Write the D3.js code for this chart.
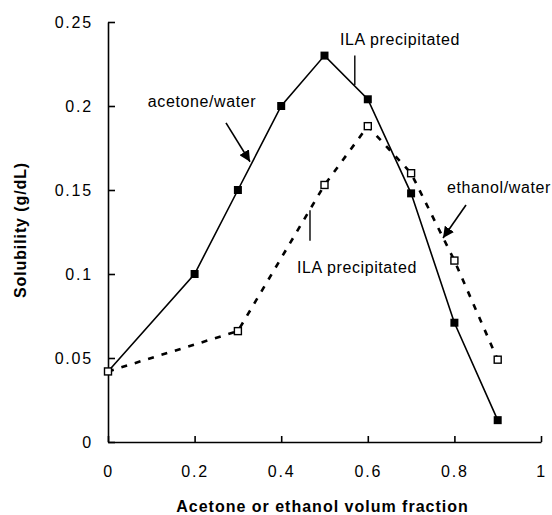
<!DOCTYPE html>
<html>
<head>
<meta charset="utf-8">
<script src="https://cdn.jsdelivr.net/npm/d3@7"></script>
<style>
  body { margin: 0; background: #fff; }
  text { font-family: "Liberation Sans", Arial, sans-serif; fill: #000; }
</style>
</head>
<body>
<div id="chart"></div>
<script>
// fractions of acetone / ethanol in the solvent
var fractions = [0, 0.2, 0.3, 0.4, 0.5, 0.6, 0.7, 0.8, 0.9];
var acetoneX = [0, 0.2, 0.3, 0.4, 0.5, 0.6, 0.7, 0.8, 0.9];
var acetoneY = [0.042, 0.1, 0.15, 0.2, 0.23, 0.204, 0.148, 0.071, 0.013];
var ethanolX = [0, 0.3, 0.5, 0.6, 0.7, 0.8, 0.9];
var ethanolY = [0.042, 0.066, 0.153, 0.188, 0.16, 0.108, 0.049];

var xTicks = [0, 0.2, 0.4, 0.6, 0.8, 1];
var xTickLabels = ["0", "0.2", "0.4", "0.6", "0.8", "1"];
var yTicks = [0, 0.05, 0.1, 0.15, 0.2, 0.25];
var yTickLabels = ["0", "0.05", "0.1", "0.15", "0.2", "0.25"];

var xTitle = "Acetone or ethanol volum fraction";
var yTitle = "Solubility (g/dL)";

// labels, placed in data units
var notes = [
    { text: "acetone/water", x: 0.092, y: 0.1994 },
    { text: "ILA precipitated", x: 0.536, y: 0.2363 },
    { text: "ILA precipitated", x: 0.4365, y: 0.1006 },
    { text: "ethanol/water", x: 0.783, y: 0.1482 }
];
var arrows = [
    { x1: 0.2725, y1: 0.190, x2: 0.328, y2: 0.1668 },
    { x1: 0.8268, y1: 0.1411, x2: 0.7737, y2: 0.1214 }
];
var pointers = [
    { x: 0.570, y1: 0.230, y2: 0.2125 },
    { x: 0.4665, y1: 0.138, y2: 0.1198 }
];

var width = 552, height = 515;
var margin = { top: 22, right: 11, bottom: 73, left: 108 };

var svg = d3.select("#chart")
    .append("svg")
    .attr("width", width)
    .attr("height", height);

var x = d3.scaleLinear()
    .domain([0, 1])
    .range([margin.left, width - margin.right]);
var y = d3.scaleLinear()
    .domain([0, 0.25])
    .range([height - margin.bottom, margin.top]);

// arrow head
svg.append("defs").append("marker")
    .attr("id", "head")
    .attr("viewBox", "0 0 10 10")
    .attr("refX", 10).attr("refY", 5)
    .attr("markerWidth", 7).attr("markerHeight", 7)
    .attr("markerUnits", "strokeWidth")
    .attr("orient", "auto")
    .append("path")
    .attr("d", "M0,0 L10,5 L0,10 z")
    .attr("fill", "#000");

// axes
var xAxis = svg.append("g")
    .attr("transform", "translate(0," + y(0) + ")")
    .call(d3.axisBottom(x)
        .tickValues(xTicks)
        .tickFormat(function (d, i) { return xTickLabels[i]; })
        .tickSize(-6)
        .tickSizeOuter(0)
        .tickPadding(24));

var yAxis = svg.append("g")
    .attr("transform", "translate(" + x(0) + ",0)")
    .call(d3.axisLeft(y)
        .tickValues(yTicks)
        .tickFormat(function (d, i) { return yTickLabels[i]; })
        .tickSize(-7)
        .tickSizeOuter(0)
        .tickPadding(15));

[xAxis, yAxis].forEach(function (a) {
    a.selectAll("path, line").attr("stroke", "#000").attr("stroke-width", 1.6);
    a.selectAll("text")
        .style("font-size", "16px")
        .style("letter-spacing", "1.8px")
        .style("font-family", "'Liberation Sans', Arial, sans-serif");
});

// titles
svg.append("text")
    .attr("x", x(0.5) - 2)
    .attr("y", 512)
    .attr("text-anchor", "middle")
    .style("font-size", "16px")
    .style("font-weight", "bold")
    .style("letter-spacing", "1px")
    .text(xTitle);

svg.append("text")
    .attr("transform", "translate(26," + 230 + ") rotate(-90)")
    .attr("text-anchor", "middle")
    .style("font-size", "16px")
    .style("font-weight", "bold")
    .style("letter-spacing", "0.9px")
    .text(yTitle);

// ethanol/water - dashed
var ethanol = ethanolX.map(function (d, i) { return [d, ethanolY[i]]; });
var acetone = acetoneX.map(function (d, i) { return [d, acetoneY[i]]; });

var line = d3.line()
    .x(function (d) { return x(d[0]); })
    .y(function (d) { return y(d[1]); });

svg.append("path")
    .datum(ethanol)
    .attr("d", line)
    .attr("fill", "none")
    .attr("stroke", "#000")
    .attr("stroke-width", 2.6)
    .attr("stroke-dasharray", "6,8");

svg.append("path")
    .datum(acetone)
    .attr("d", line)
    .attr("fill", "none")
    .attr("stroke", "#000")
    .attr("stroke-width", 1.6);

// markers
svg.selectAll("rect.ethanol")
    .data(ethanol)
    .enter()
    .append("rect")
    .attr("class", "ethanol")
    .attr("x", function (d) { return x(d[0]) - 3.5; })
    .attr("y", function (d) { return y(d[1]) - 3.5; })
    .attr("width", 7).attr("height", 7)
    .attr("fill", "#fff")
    .attr("stroke", "#000")
    .attr("stroke-width", 1.4);

svg.selectAll("rect.acetone")
    .data(acetone.slice(1))
    .enter()
    .append("rect")
    .attr("class", "acetone")
    .attr("x", function (d) { return x(d[0]) - 4; })
    .attr("y", function (d) { return y(d[1]) - 4; })
    .attr("width", 8).attr("height", 8)
    .attr("fill", "#000");

// annotations
svg.selectAll("text.note")
    .data(notes)
    .enter()
    .append("text")
    .attr("class", "note")
    .attr("x", function (d) { return x(d.x); })
    .attr("y", function (d) { return y(d.y); })
    .style("font-size", "16px")
    .style("letter-spacing", "0.6px")
    .text(function (d) { return d.text; });

svg.selectAll("line.arrow")
    .data(arrows)
    .enter()
    .append("line")
    .attr("class", "arrow")
    .attr("x1", function (d) { return x(d.x1); })
    .attr("y1", function (d) { return y(d.y1); })
    .attr("x2", function (d) { return x(d.x2); })
    .attr("y2", function (d) { return y(d.y2); })
    .attr("stroke", "#000")
    .attr("stroke-width", 1.6)
    .attr("marker-end", "url(#head)");

svg.selectAll("line.pointer")
    .data(pointers)
    .enter()
    .append("line")
    .attr("class", "pointer")
    .attr("x1", function (d) { return x(d.x); })
    .attr("x2", function (d) { return x(d.x); })
    .attr("y1", function (d) { return y(d.y1); })
    .attr("y2", function (d) { return y(d.y2); })
    .attr("stroke", "#000")
    .attr("stroke-width", 1.4);
</script>
</body>
</html>
